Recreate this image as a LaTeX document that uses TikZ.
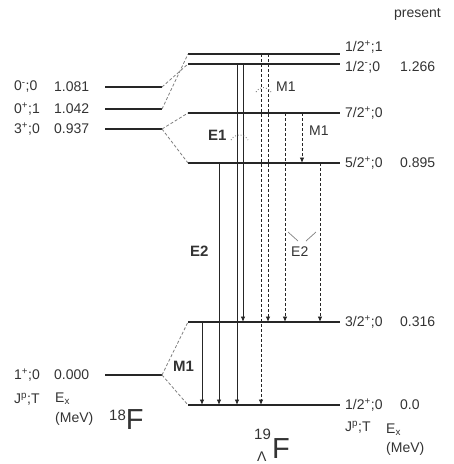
\documentclass[tikz,border=0pt]{standalone}
\usepackage{fontspec}
\setmainfont{Liberation Sans}
\usetikzlibrary{arrows.meta}

\begin{document}
\begin{tikzpicture}[x=1pt, y=-1pt,
    level/.style={line width=1.2pt, black!85},
    link/.style={gray, line width=0.8pt, dash pattern=on 3pt off 2pt},
    gam/.style={-{Latex[length=5.5pt,width=4.5pt]}, line width=0.9pt, black!85},
    gamd/.style={gam, dash pattern=on 3pt off 2pt},
    lbl/.style={font=\fontsize{14}{16}\selectfont, text=black!80, inner sep=0pt, anchor=west},
    mult/.style={lbl, font=\fontsize{15}{17}\selectfont\bfseries},
    ptr/.style={gray, dotted, line width=0.9pt}
]
\useasboundingbox (0,0) rectangle (454,464);

% 18F levels
\foreach \n/\y in {fa/87, fb/109, fc/129, fd/375} {
    \coordinate (\n-l) at (105,\y);
    \coordinate (\n-r) at (162,\y);
    \draw[level] (\n-l) -- (\n-r);
}

% 19LF levels
\foreach \n/\y in {ha/54, hb/64, hc/113, hd/163, he/322, hf/405} {
    \coordinate (\n-l) at (188,\y);
    \coordinate (\n-r) at (340,\y);
    \draw[level] (\n-l) -- (\n-r);
}

% Core couplings
\draw[link] (fa-r) -- (hb-l);
\draw[link] (fb-r) -- (ha-l);
\draw[link] (fc-r) -- (hc-l);
\draw[link] (fc-r) -- (hd-l);
\draw[link] (fd-r) -- (he-l);
\draw[link] (fd-r) -- (hf-l);

% Gamma transitions
\foreach \x/\a/\b in {202/he/hf, 219/hd/hf, 237/hb/hf, 243/hb/he}
    \draw[gam] (\a-l -| \x,0) -- (\b-l -| \x,0);
\foreach \x/\a/\b in {261/ha/hf, 268/ha/he, 285/hc/he, 302/hc/hd, 320/hd/he}
    \draw[gamd] (\a-l -| \x,0) -- (\b-l -| \x,0);

% 18F labels
\node[lbl] (fa-j) at (14,87) {0\textsuperscript{-};0};
\node[lbl] (fa-e) at (54,87) {1.081};
\node[lbl] (fb-j) at (14,109) {0\textsuperscript{+};1};
\node[lbl] (fb-e) at (54,109) {1.042};
\node[lbl] (fc-j) at (14,129) {3\textsuperscript{+};0};
\node[lbl] (fc-e) at (54,129) {0.937};
\node[lbl] (fd-j) at (14,375) {1\textsuperscript{+};0};
\node[lbl] (fd-e) at (54,375) {0.000};
\node[lbl] (fjt) at (14,399) {J\textsuperscript{p};T};
\node[lbl] (fex) at (55,399) {E\textsubscript{x}};
\node[lbl] (fmev) at (55,419) {(MeV)};
\node[lbl] (f18) at (109,420) {\raisebox{9pt}{\fontsize{15}{15}\selectfont 18}\fontsize{29}{29}\selectfont F};

% 19LF labels
\node[lbl] (present) at (394,14) {present};
\node[lbl] (ha-j) at (345,47) {1/2\textsuperscript{+};1};
\node[lbl] (hb-j) at (345,67) {1/2\textsuperscript{-};0};
\node[lbl] (hb-e) at (400,67) {1.266};
\node[lbl] (hc-j) at (345,113) {7/2\textsuperscript{+};0};
\node[lbl] (hd-j) at (345,163) {5/2\textsuperscript{+};0};
\node[lbl] (hd-e) at (400,163) {0.895};
\node[lbl] (he-j) at (345,322) {3/2\textsuperscript{+};0};
\node[lbl] (he-e) at (400,322) {0.316};
\node[lbl] (hf-j) at (345,405) {1/2\textsuperscript{+};0};
\node[lbl] (hf-e) at (400,405) {0.0};
\node[lbl] (hjt) at (345,427) {J\textsuperscript{p};T};
\node[lbl] (hex) at (386,430) {E\textsubscript{x}};
\node[lbl] (hmev) at (386,449) {(MeV)};
\node[lbl] (l19) at (254,434) {\fontsize{15}{15}\selectfont 19};
\node[lbl] (lam) at (257,457) {\fontsize{14}{14}\selectfont Λ};
\node[lbl] (f19) at (272,449) {\fontsize{29}{29}\selectfont F};

% Multipolarities
\node[lbl] (m1a) at (276,87) {M1};
\node[mult] (e1) at (208,135) {E1};
\node[lbl] (m1b) at (309,131) {M1};
\node[mult] (e2a) at (190,251) {E2};
\node[lbl] (e2b) at (291,252) {E2};
\node[mult] (m1c) at (173,366) {M1};

% Pointers
\draw[ptr] (256,92) .. controls (259,86) and (267,86) .. (271,92);
\draw[ptr] (231,140) .. controls (235,133) and (244,133) .. (248,140);
\draw[gray, line width=0.7pt] (288,232) -- (298,241);
\draw[gray, line width=0.7pt] (316,232) -- (306,241);

\end{tikzpicture}
\end{document}
